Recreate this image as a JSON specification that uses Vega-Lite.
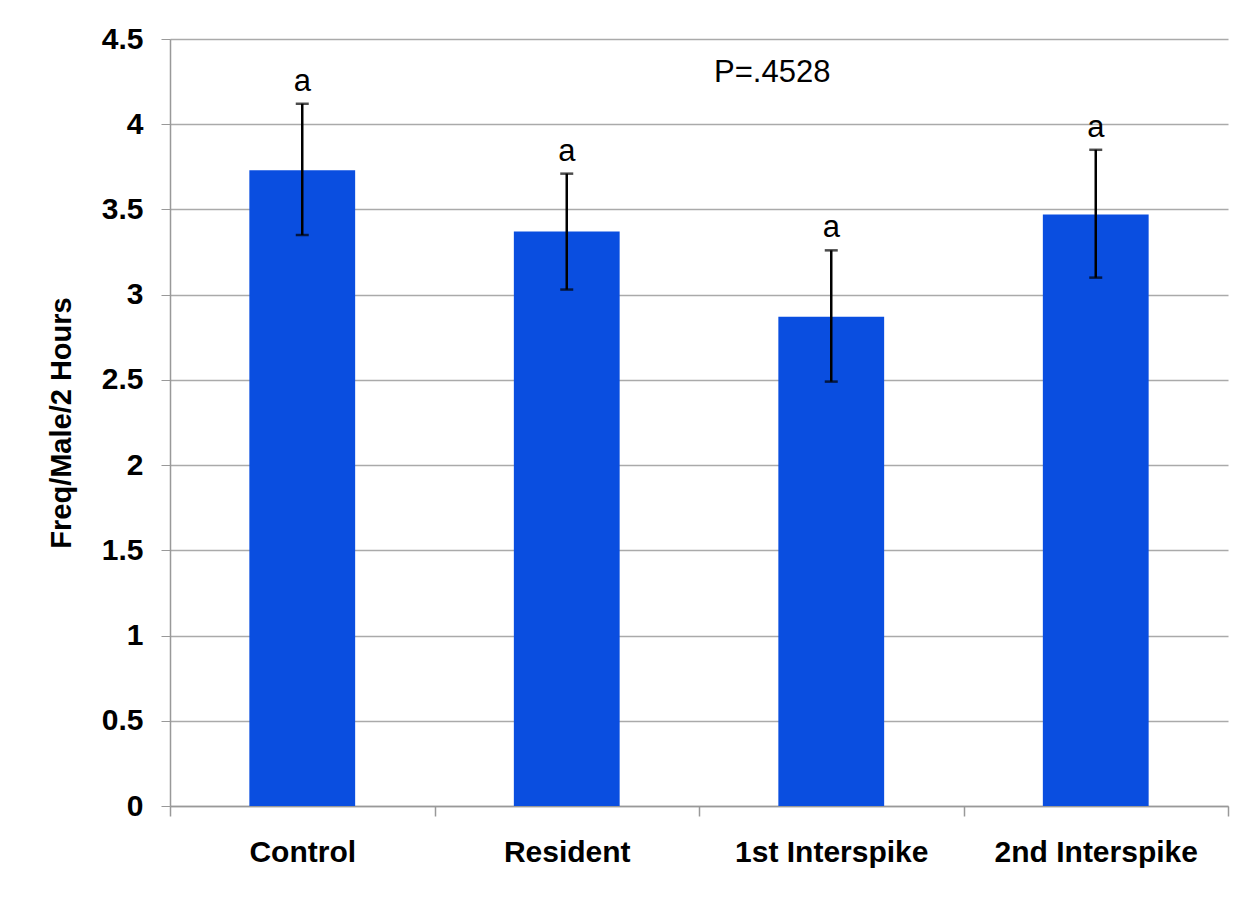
{
  "$schema": "https://vega.github.io/schema/vega-lite/v6.json",
  "autosize": {"type": "none"},
  "width": 1058,
  "height": 767,
  "padding": {"left": 170, "top": 39, "right": 28, "bottom": 91},
  "background": "white",
  "config": {
    "view": {"stroke": null},
    "font": "Liberation Sans",
    "axis": {"labelFont": "Liberation Sans", "titleFont": "Liberation Sans"}
  },
  "data": {
    "values": [
      {"group": "Control", "mean": 3.73, "lo": 3.35, "hi": 4.12, "letter": "a"},
      {"group": "Resident", "mean": 3.37, "lo": 3.03, "hi": 3.71, "letter": "a"},
      {"group": "1st Interspike", "mean": 2.87, "lo": 2.49, "hi": 3.26, "letter": "a"},
      {"group": "2nd Interspike", "mean": 3.47, "lo": 3.10, "hi": 3.85, "letter": "a"}
    ]
  },
  "encoding": {
    "x": {
      "field": "group",
      "type": "nominal",
      "sort": null,
      "scale": {"paddingInner": 0, "paddingOuter": 0},
      "axis": {
        "title": null,
        "labelAngle": 0,
        "labelFontSize": 30,
        "labelFontWeight": "bold",
        "labelColor": "black",
        "labelLimit": 0,
        "labelPadding": 21,
        "tickBand": "extent",
        "ticks": true,
        "tickSize": 10,
        "tickWidth": 1.5,
        "tickColor": "#999999",
        "domainColor": "#999999",
        "domainWidth": 1.5,
        "grid": false
      }
    }
  },
  "layer": [
    {
      "mark": {"type": "bar", "color": "#0A4EE0", "width": {"band": 0.4}},
      "encoding": {
        "y": {
          "field": "mean",
          "type": "quantitative",
          "scale": {"domain": [0, 4.5], "nice": false},
          "axis": {
            "title": "Freq/Male/2 Hours",
            "titleFontSize": 29,
            "titleFontWeight": "bold",
            "titleColor": "black",
            "titlePadding": 25,
            "values": [0, 0.5, 1, 1.5, 2, 2.5, 3, 3.5, 4, 4.5],
            "format": "~g",
            "labelFontSize": 30,
            "labelFontWeight": "bold",
            "labelColor": "black",
            "labelPadding": 18,
            "tickSize": 9,
            "tickColor": "#999999",
            "domainColor": "#999999",
            "domainWidth": 1.5,
            "gridColor": "#aaaaaa",
            "gridWidth": 1.3,
            "grid": true
          }
        }
      }
    },
    {
      "mark": {"type": "rule", "color": "black", "strokeWidth": 2.5},
      "encoding": {
        "y": {"field": "lo", "type": "quantitative"},
        "y2": {"field": "hi"}
      }
    },
    {
      "mark": {"type": "tick", "color": "black", "thickness": 2.5, "size": 13},
      "encoding": {"y": {"field": "hi", "type": "quantitative"}}
    },
    {
      "mark": {"type": "tick", "color": "black", "thickness": 2.5, "size": 13},
      "encoding": {"y": {"field": "lo", "type": "quantitative"}}
    },
    {
      "mark": {"type": "text", "fontSize": 31, "color": "black", "baseline": "alphabetic", "dy": -13},
      "encoding": {
        "y": {"field": "hi", "type": "quantitative"},
        "text": {"field": "letter"}
      }
    },
    {
      "data": {"values": [{"group": "1st Interspike", "y": 4.25, "label": "P=.4528"}]},
      "mark": {"type": "text", "fontSize": 31, "color": "black", "baseline": "alphabetic", "dx": -59},
      "encoding": {
        "x": {"field": "group", "type": "nominal"},
        "y": {"field": "y", "type": "quantitative"},
        "text": {"field": "label"}
      }
    }
  ]
}
